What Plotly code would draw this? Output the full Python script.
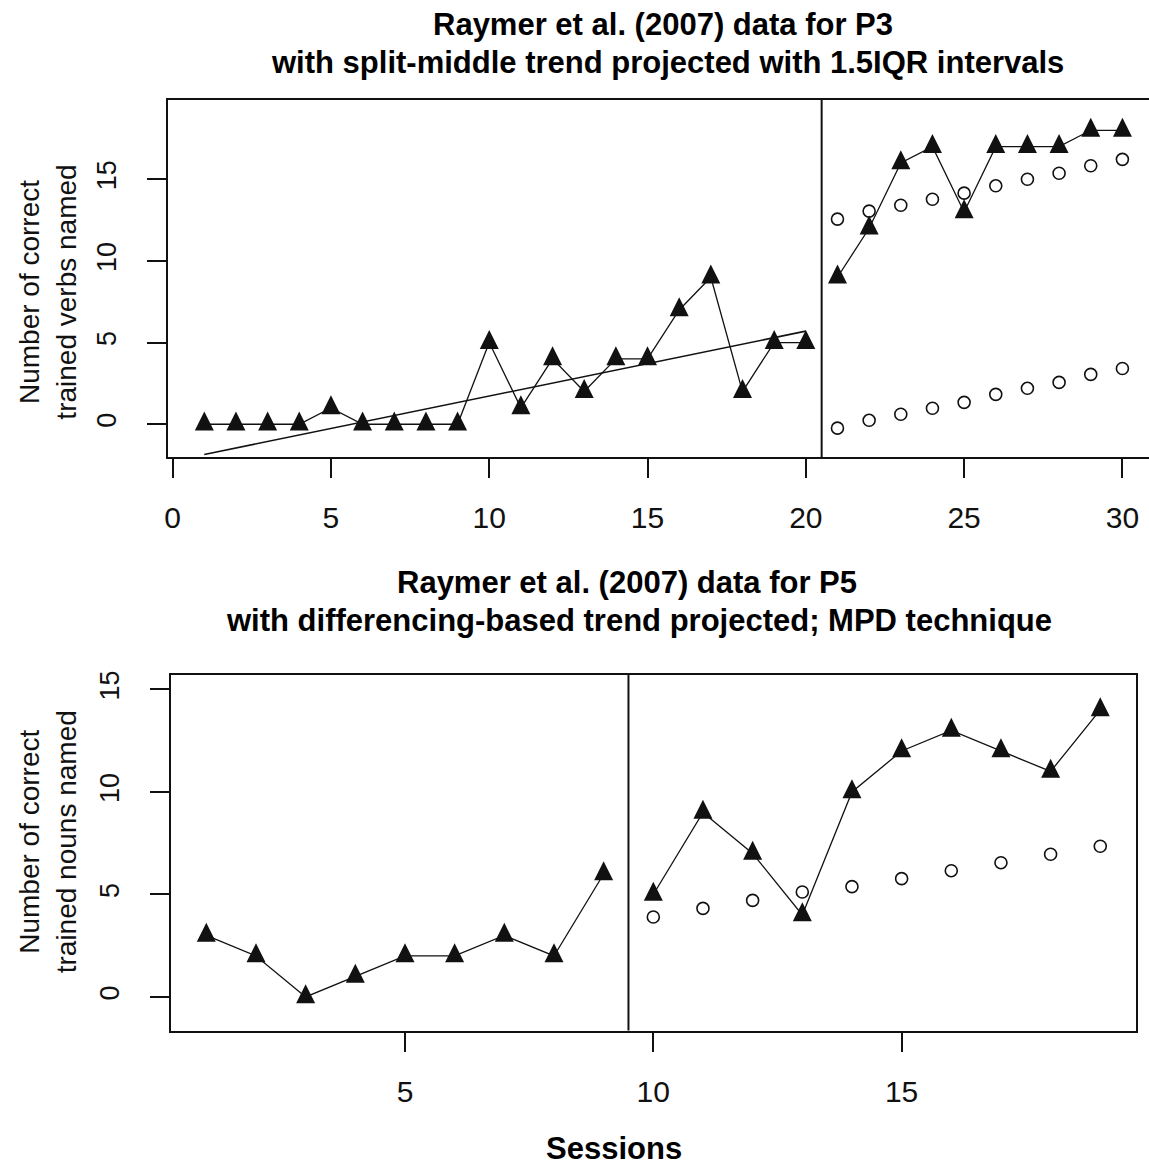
import plotly.graph_objects as go

# ---- P3: correct trained verbs named ----
p3_base_sessions = list(range(1, 21))
p3_base_values = [0, 0, 0, 0, 1, 0, 0, 0, 0, 5, 1, 4, 2, 4, 4, 7, 9, 2, 5, 5]
p3_treat_sessions = list(range(21, 31))
p3_treat_values = [9, 12, 16, 17, 13, 17, 17, 17, 18, 18]
# split-middle trend fitted on baseline, projected band (1.5 IQR) over treatment
p3_trend_sessions = [1, 20]
p3_trend_values = [-1.85, 5.7]
p3_upper = [12.56, 13.05, 13.41, 13.78, 14.15, 14.6, 15.0, 15.37, 15.83, 16.22]
p3_lower = [-0.24, 0.24, 0.61, 0.98, 1.34, 1.83, 2.2, 2.56, 3.05, 3.41]
p3_phase_change = 20.5
p3_xticks = [0, 5, 10, 15, 20, 25, 30]
p3_yticks = [0, 5, 10, 15]

# ---- P5: correct trained nouns named ----
p5_base_sessions = list(range(1, 10))
p5_base_values = [3, 2, 0, 1, 2, 2, 3, 2, 6]
p5_treat_sessions = list(range(10, 20))
p5_treat_values = [5, 9, 7, 4, 10, 12, 13, 12, 11, 14]
# differencing-based trend projected into treatment (MPD)
p5_projected = [3.9, 4.32, 4.71, 5.12, 5.38, 5.77, 6.16, 6.55, 6.96, 7.35]
p5_phase_change = 9.5
p5_xticks = [5, 10, 15]
p5_yticks = [0, 5, 10, 15]

W, H = 1149, 1166
FONT = "Liberation Sans, Arial, sans-serif"
INK = "#111111"
TRI = 19  # filled triangle size (px)


def fx(p):
    return p / W


def fy(p):
    return 1 - p / H


def line_trace(x, y, xa, ya, width=1.3):
    return go.Scatter(x=x, y=y, mode="lines", xaxis=xa, yaxis=ya,
                      line=dict(color=INK, width=width), hoverinfo="skip")


def tri_trace(x, y, xa, ya):
    # point-up filled triangle centred on its centroid
    return go.Scatter(x=x, y=y, mode="markers", xaxis=xa, yaxis=ya,
                      marker=dict(symbol="arrow-down", angle=180, size=TRI,
                                  standoff=TRI * 2 / 3, color=INK,
                                  line=dict(width=0)))


def circ_trace(x, y, xa, ya):
    return go.Scatter(x=x, y=y, mode="markers", xaxis=xa, yaxis=ya,
                      marker=dict(symbol="circle-open", size=12,
                                  color=INK, line=dict(width=1.6, color=INK)))


fig = go.Figure()

# top panel
fig.add_trace(line_trace(p3_trend_sessions, p3_trend_values, "x", "y", 1.6))
fig.add_trace(line_trace(p3_base_sessions, p3_base_values, "x", "y"))
fig.add_trace(line_trace(p3_treat_sessions, p3_treat_values, "x", "y"))
fig.add_trace(circ_trace(p3_treat_sessions, p3_upper, "x", "y"))
fig.add_trace(circ_trace(p3_treat_sessions, p3_lower, "x", "y"))
fig.add_trace(tri_trace(p3_base_sessions, p3_base_values, "x", "y"))
fig.add_trace(tri_trace(p3_treat_sessions, p3_treat_values, "x", "y"))

# bottom panel
fig.add_trace(line_trace(p5_base_sessions, p5_base_values, "x2", "y2"))
fig.add_trace(line_trace(p5_treat_sessions, p5_treat_values, "x2", "y2"))
fig.add_trace(circ_trace(p5_treat_sessions, p5_projected, "x2", "y2"))
fig.add_trace(tri_trace(p5_base_sessions, p5_base_values, "x2", "y2"))
fig.add_trace(tri_trace(p5_treat_sessions, p5_treat_values, "x2", "y2"))

axis_common = dict(showgrid=False, zeroline=False, showline=True, linecolor=INK,
                   linewidth=2, ticks="outside", ticklen=19, tickwidth=2,
                   tickcolor=INK, fixedrange=True)
xfont = dict(family=FONT, size=30, color=INK)
yfont = dict(family=FONT, size=27, color=INK)

fig.update_layout(
    width=W, height=H,
    margin=dict(l=0, r=0, t=0, b=0),
    paper_bgcolor="white", plot_bgcolor="white",
    showlegend=False,
    xaxis=dict(domain=[fx(165), 1.0], range=[-0.16, 30.84], anchor="y",
               tickvals=p3_xticks, tickfont=xfont, mirror=True,
               ticklabelstandoff=14, **axis_common),
    yaxis=dict(domain=[fy(454), fy(95)], range=[-2.01, 19.88], anchor="x",
               tickvals=p3_yticks, tickfont=yfont, tickangle=-90, mirror=False,
               ticklabelstandoff=20, **axis_common),
    xaxis2=dict(domain=[fx(168), fx(1136)], range=[0.28, 19.72], anchor="y2",
                tickvals=p5_xticks, tickfont=xfont, mirror=True,
                ticklabelstandoff=14, **axis_common),
    yaxis2=dict(domain=[fy(1030), fy(673)], range=[-1.64, 15.7], anchor="x2",
                tickvals=p5_yticks, tickfont=yfont, tickangle=-90, mirror=True,
                ticklabelstandoff=20, **axis_common),
    shapes=[
        dict(type="line", xref="x", yref="y domain", x0=p3_phase_change,
             x1=p3_phase_change, y0=0, y1=1, line=dict(color=INK, width=2)),
        dict(type="line", xref="x2", yref="y2 domain", x0=p5_phase_change,
             x1=p5_phase_change, y0=0, y1=1, line=dict(color=INK, width=2)),
    ],
)

title_font = dict(family=FONT, size=31, color="black")
label_font = dict(family=FONT, size=28, color=INK)


def note(text, x, y, font, angle=0):
    fig.add_annotation(text=text, xref="paper", yref="paper", x=fx(x), y=fy(y),
                       xanchor="center", yanchor="middle", showarrow=False,
                       font=font, textangle=angle)


note("<b>Raymer et al. (2007) data for P3</b>", 662, 20, title_font)
note("<b>with split-middle trend projected with 1.5IQR intervals</b>", 666, 58, title_font)
note("<b>Raymer et al. (2007) data for P5</b>", 626, 580, title_font)
note("<b>with differencing-based trend projected; MPD technique</b>", 638, 618, title_font)
note("Number of correct<br>trained verbs named", 45, 288, label_font, -90)
note("Number of correct<br>trained nouns named", 45, 840, label_font, -90)
note("<b>Sessions</b>", 613, 1148, dict(family=FONT, size=31, color="black"))

fig.write_html("out.html")
